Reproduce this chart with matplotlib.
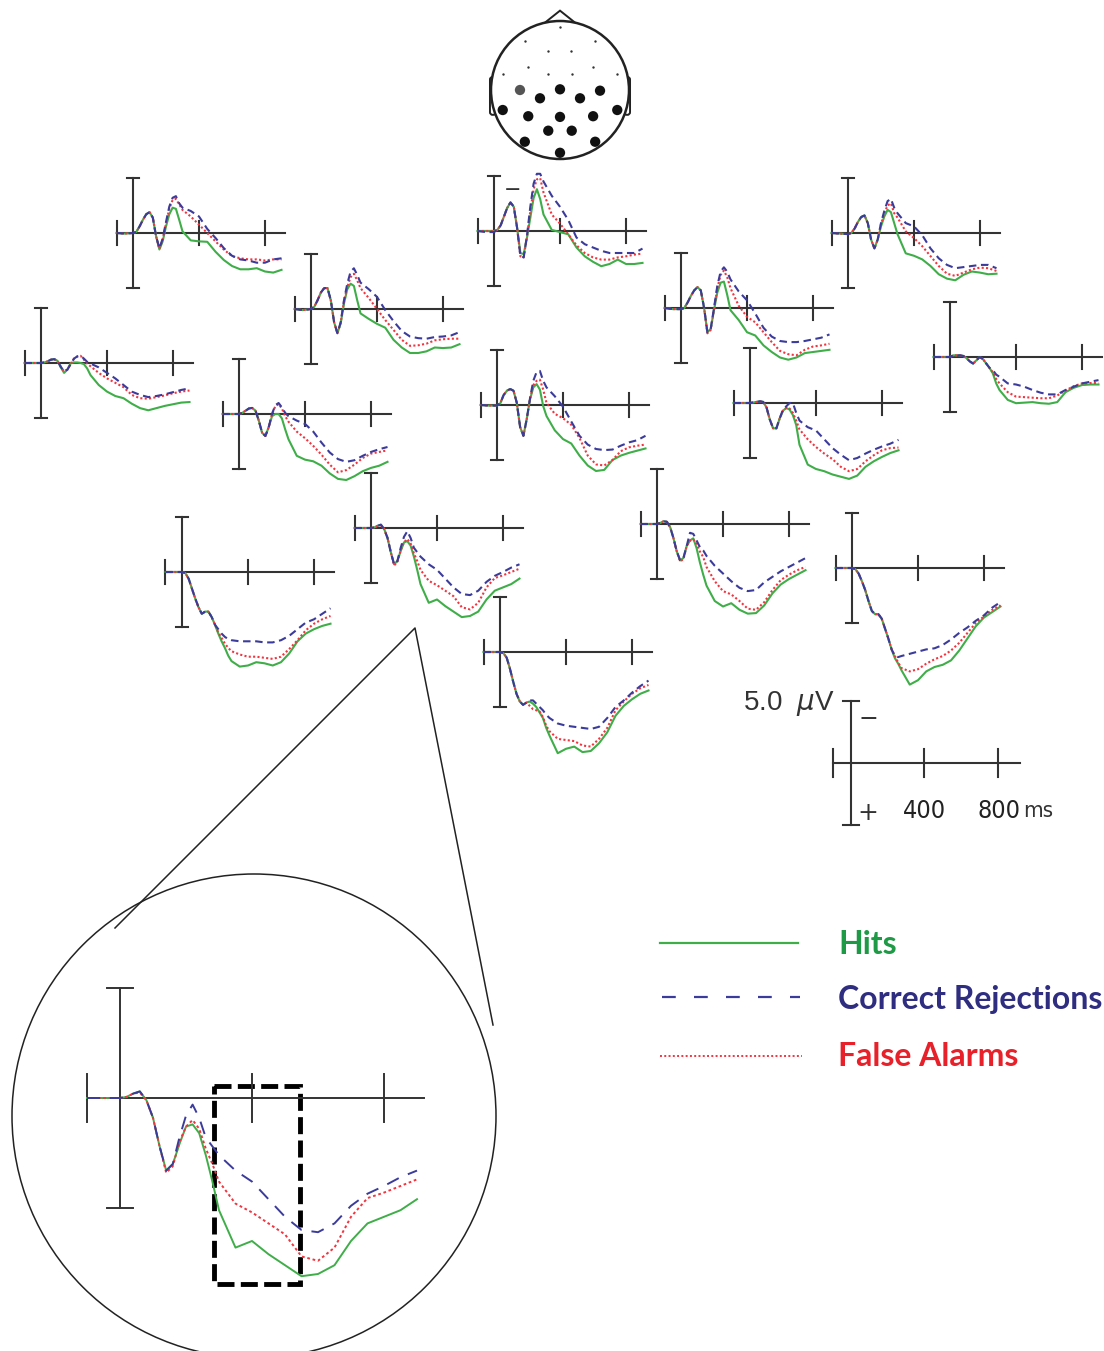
import matplotlib
matplotlib.use("Agg")
import matplotlib.pyplot as plt
from matplotlib.patches import Circle, FancyBboxPatch, Polygon, Rectangle

W, H = 1104, 1351

# time base (ms) shared by every waveform
t_ms = [-100, -50, 0, 20, 40, 60, 80, 100, 120, 140, 160, 180, 200, 220, 240,
        260, 280, 300, 350, 400, 450, 500, 550, 600, 650, 700, 750, 800, 850, 900]

# amplitudes in microvolts (negative plotted up)
p01_hit = [0, 0.05, 0, -0.1, -0.6, -1.2, -1.7, -1.9, -1.4, 0.3, 1.5, 0.75, -0.6, -1.7, -2.3, -2.2, -1.2, -0.15, 0.67, 0.76, 0.8, 1.7, 2.45, 3.0, 3.3, 3.3, 3.2, 3.5, 3.6, 3.35]
p01_cr = [0, 0.05, 0, -0.1, -0.6, -1.2, -1.7, -1.9, -1.4, 0.3, 1.4, 0.5, -1.0, -2.4, -3.2, -3.35, -2.7, -2.3, -2.0, -1.5, -0.37, 0.45, 1.37, 2.07, 2.4, 2.5, 2.7, 2.7, 2.4, 2.3]
p01_fa = [0, 0.05, 0, -0.1, -0.6, -1.2, -1.7, -1.9, -1.4, 0.3, 1.45, 0.6, -0.9, -2.2, -3.0, -3.1, -2.6, -2.1, -1.5, -0.76, 0, 0.76, 1.5, 2.1, 2.3, 2.4, 2.4, 2.5, 2.4, 2.4]

p02_hit = [0, 0, 0, -0.1, -0.5, -1.3, -2.1, -2.6, -2.2, -0.3, 2.0, 2.1, 0.6, -1.2, -3.0, -3.8, -2.9, -1.5, -0.1, 0.1, 0.3, 1.5, 2.3, 2.8, 3.2, 3.0, 2.6, 3.0, 3.0, 2.9]
p02_cr = [0, 0.1, 0.1, -0.1, -0.5, -1.3, -2.1, -2.6, -2.2, -0.3, 2.3, 2.4, 0.4, -2.2, -4.3, -5.2, -5.2, -4.5, -3.2, -2.2, -1.0, 0.6, 1.2, 1.5, 1.8, 2.0, 2.0, 2.0, 2.0, 1.6]
p02_fa = [0, 0, 0, -0.1, -0.5, -1.3, -2.1, -2.6, -2.2, -0.3, 2.3, 2.4, 0.5, -1.8, -3.8, -4.7, -4.8, -3.5, -1.5, -0.67, 0.3, 1.3, 2.0, 2.4, 2.6, 2.6, 2.4, 2.3, 2.15, 2.05]

p03_hit = [0, 0.05, 0.1, 0, -0.4, -1.0, -1.45, -1.6, -0.9, 0.6, 1.4, 0.6, -0.6, -1.5, -2.1, -1.9, -0.9, 0.1, 1.85, 2.07, 2.4, 3.0, 3.75, 4.15, 4.3, 3.8, 3.5, 3.6, 3.75, 3.7]
p03_cr = [0, 0.05, 0.1, 0, -0.4, -1.0, -1.45, -1.6, -0.9, 0.6, 1.4, 0.6, -0.9, -2.0, -2.9, -3.1, -2.3, -1.8, -0.9, -0.6, 0.2, 1.4, 2.3, 2.9, 3.2, 3.1, 3.0, 2.9, 2.9, 3.2]
p03_fa = [0, 0.05, 0.1, 0, -0.4, -1.0, -1.45, -1.6, -0.9, 0.6, 1.4, 0.6, -0.8, -1.8, -2.5, -2.7, -1.8, -1.4, -0.15, 0.46, 1.2, 2.1, 3.0, 3.7, 3.9, 3.6, 3.3, 3.15, 3.2, 3.45]

p04_hit = [0, 0.1, 0, -0.2, -0.8, -1.5, -1.9, -1.9, -0.8, 1.2, 2.2, 1.3, -0.5, -1.8, -2.3, -2.1, -0.8, 0.4, 0.9, 1.35, 1.7, 2.8, 3.5, 4.0, 4.0, 3.85, 3.5, 3.55, 3.5, 3.2]
p04_cr = [0, 0.1, 0, -0.2, -0.8, -1.5, -1.9, -1.9, -0.8, 1.2, 2.2, 1.2, -0.8, -2.3, -3.4, -3.7, -3.1, -2.4, -1.8, -1.1, 0.1, 1.1, 2.0, 2.5, 2.65, 2.7, 2.55, 2.5, 2.4, 2.1]
p04_fa = [0, 0.1, 0, -0.2, -0.8, -1.5, -1.9, -1.9, -0.8, 1.2, 2.2, 1.25, -0.7, -2.0, -2.9, -3.2, -2.6, -1.9, -1.0, 0, 1.0, 1.9, 2.8, 3.35, 3.3, 3.15, 2.85, 2.75, 2.7, 2.7]

p05_hit = [0, 0.1, 0.1, 0, -0.5, -1.1, -1.6, -1.9, -1.6, 0, 2.2, 1.9, 0.2, -1.4, -2.3, -2.4, -1.2, 0.2, 1.1, 2.2, 2.5, 3.4, 4.0, 4.5, 4.7, 4.5, 4.1, 4.0, 3.9, 3.8]
p05_cr = [0, 0.1, 0.1, 0, -0.5, -1.1, -1.6, -1.9, -1.6, 0, 2.2, 1.9, 0.0, -2.0, -3.3, -3.7, -3.3, -2.6, -1.5, -0.7, 0.5, 1.8, 2.6, 3.0, 3.1, 3.1, 3.0, 2.85, 2.7, 2.4]
p05_fa = [0, 0.1, 0.1, 0, -0.5, -1.1, -1.6, -1.9, -1.6, 0, 2.3, 2.0, 0.1, -1.8, -3.0, -3.4, -2.8, -1.8, -0.2, 0.8, 1.3, 2.2, 3.1, 3.9, 4.2, 4.3, 3.8, 3.5, 3.4, 3.25]

p06_hit = [0, 0, 0, -0.05, -0.15, -0.3, -0.35, -0.2, 0.4, 0.9, 0.6, 0.0, -0.05, -0.05, 0, 0.1, 0.5, 1.1, 2.0, 2.6, 3.0, 3.2, 3.7, 4.1, 4.3, 4.1, 3.9, 3.75, 3.6, 3.55]
p06_cr = [0, 0, 0, -0.05, -0.15, -0.3, -0.35, -0.2, 0.35, 0.75, 0.6, 0.1, -0.4, -0.6, -0.65, -0.4, -0.1, 0.05, 0.4, 0.9, 1.4, 2.0, 2.6, 2.9, 3.1, 3.0, 2.85, 2.65, 2.45, 2.3]
p06_fa = [0, 0, 0, -0.05, -0.15, -0.3, -0.35, -0.2, 0.35, 0.75, 0.6, 0.1, -0.4, -0.6, -0.65, -0.3, 0.05, 0.3, 0.9, 1.4, 1.8, 2.2, 2.9, 3.2, 3.25, 3.1, 2.95, 2.75, 2.6, 2.5]

p07_hit = [0, 0, 0, -0.1, -0.3, -0.5, -0.55, -0.3, 0.6, 1.7, 2.0, 1.2, 0.2, 0.0, 0.0, 0.4, 1.4, 2.3, 3.8, 4.15, 4.3, 4.7, 5.4, 5.9, 6.0, 5.65, 5.2, 4.9, 4.7, 4.35]
p07_cr = [0, 0, 0, -0.1, -0.3, -0.5, -0.55, -0.3, 0.6, 1.7, 2.0, 1.2, 0.0, -0.8, -1.0, -0.6, -0.1, 0.2, 0.6, 0.9, 1.6, 2.6, 3.5, 4.1, 4.35, 4.2, 3.8, 3.45, 3.2, 3.0]
p07_fa = [0, 0, 0, -0.1, -0.3, -0.5, -0.55, -0.3, 0.6, 1.7, 2.0, 1.2, 0.0, -0.7, -0.9, -0.5, 0.2, 0.7, 1.6, 2.2, 2.9, 3.7, 4.6, 5.3, 5.1, 4.6, 4.0, 3.6, 3.45, 3.3]

p08_hit = [0, 0.05, 0.05, -0.15, -0.9, -1.3, -1.45, -1.3, -0.2, 2.0, 2.8, 1.3, -0.5, -1.6, -1.9, -1.4, 0.1, 1.0, 2.3, 3.1, 3.5, 4.6, 5.5, 6.0, 5.9, 5.0, 4.6, 4.35, 4.15, 3.95]
p08_cr = [0, 0.05, 0.05, -0.15, -0.9, -1.3, -1.45, -1.3, -0.2, 2.0, 2.8, 1.3, -0.6, -2.2, -3.0, -3.1, -2.2, -1.6, -0.8, 0.15, 1.5, 2.8, 3.6, 4.0, 4.1, 4.05, 3.7, 3.4, 3.2, 2.8]
p08_fa = [0, 0.05, 0.05, -0.15, -0.9, -1.3, -1.45, -1.3, -0.2, 2.0, 2.8, 1.3, -0.6, -1.8, -2.2, -2.3, -1.4, -0.2, 0.8, 1.2, 1.8, 3.0, 4.6, 5.4, 5.5, 5.0, 4.2, 3.85, 3.7, 3.6]

p09_hit = [0, 0, 0, -0.05, -0.1, -0.15, -0.1, 0.4, 1.5, 2.3, 2.3, 1.4, 0.7, 0.45, 0.6, 1.1, 2.0, 3.8, 5.6, 6.0, 6.2, 6.5, 6.7, 6.9, 6.6, 5.8, 5.3, 4.9, 4.55, 4.3]
p09_cr = [0, 0, 0, -0.05, -0.1, -0.15, -0.1, 0.4, 1.5, 2.3, 2.3, 1.4, 0.6, 0.3, 0.0, 0.0, 0.9, 1.6, 2.2, 2.5, 3.3, 4.1, 4.7, 5.2, 5.0, 4.6, 4.25, 3.95, 3.7, 3.35]
p09_fa = [0, 0, 0, -0.05, -0.1, -0.15, -0.1, 0.4, 1.5, 2.3, 2.3, 1.4, 0.7, 0.45, 0.5, 0.9, 1.6, 2.4, 3.3, 4.0, 4.6, 5.1, 5.8, 6.2, 6.0, 5.3, 4.75, 4.3, 4.1, 4.05]

p10_hit = [0, 0, 0, -0.15, -0.15, -0.15, -0.1, 0.1, 0.4, 0.6, 0.3, 0.0, 0.2, 0.6, 1.0, 1.5, 2.4, 3.0, 3.9, 4.2, 4.15, 4.1, 4.2, 4.25, 4.1, 3.2, 2.8, 2.55, 2.5, 2.5]
p10_cr = [0, 0, 0, -0.15, -0.15, -0.15, -0.1, 0.1, 0.4, 0.6, 0.3, 0.0, 0.2, 0.6, 1.0, 1.2, 1.6, 1.8, 2.4, 2.5, 2.7, 3.0, 3.25, 3.4, 3.4, 3.0, 2.7, 2.4, 2.25, 2.1]
p10_fa = [0, 0, 0, -0.15, -0.15, -0.15, -0.1, 0.1, 0.4, 0.6, 0.3, 0.0, 0.2, 0.6, 1.0, 1.4, 2.0, 2.4, 3.2, 3.6, 3.65, 3.7, 3.75, 3.75, 3.5, 3.05, 2.65, 2.4, 2.37, 2.37]

p11_hit = [0, 0, 0, -0.05, -0.2, -0.3, 0.1, 0.9, 2.2, 3.3, 3.0, 2.1, 1.3, 1.2, 1.6, 2.6, 3.8, 5.1, 6.8, 6.5, 7.1, 7.6, 8.1, 8.0, 7.6, 6.5, 5.7, 5.4, 5.1, 4.6]
p11_cr = [0, 0, 0, -0.05, -0.2, -0.3, 0.1, 0.9, 2.2, 3.3, 3.0, 1.8, 0.8, 0.3, 0.9, 1.8, 2.2, 2.6, 3.3, 3.8, 4.6, 5.4, 6.0, 6.1, 5.7, 4.9, 4.35, 4.0, 3.6, 3.3]
p11_fa = [0, 0, 0, -0.05, -0.2, -0.25, 0.1, 0.9, 2.2, 3.4, 3.1, 2.0, 1.3, 1.0, 1.4, 2.3, 3.0, 3.8, 4.8, 5.2, 5.7, 6.2, 7.2, 7.4, 6.8, 5.4, 4.55, 4.3, 4.0, 3.7]

p12_hit = [0, 0, 0, -0.1, -0.25, -0.2, 0.3, 1.3, 2.5, 3.3, 3.1, 2.0, 1.5, 1.3, 2.2, 3.5, 4.6, 5.6, 7.0, 7.5, 7.2, 7.8, 8.15, 8.1, 7.4, 6.3, 5.5, 5.0, 4.6, 4.2]
p12_cr = [0, 0, 0, -0.1, -0.25, -0.2, 0.3, 1.3, 2.5, 3.3, 3.1, 2.0, 0.8, 0.9, 1.5, 2.1, 2.4, 2.9, 3.8, 4.5, 5.2, 5.8, 6.1, 6.0, 5.3, 4.8, 4.3, 3.9, 3.5, 3.1]
p12_fa = [0, 0, 0, -0.1, -0.25, -0.2, 0.3, 1.3, 2.5, 3.4, 3.2, 2.0, 1.5, 1.4, 1.8, 2.5, 3.0, 3.9, 5.2, 6.1, 6.4, 7.0, 7.7, 7.8, 7.1, 6.0, 5.1, 4.6, 4.2, 3.9]

p13_hit = [0, 0, 0, 0.1, 0.6, 1.5, 2.4, 3.2, 3.8, 3.6, 3.6, 4.1, 4.8, 5.6, 6.3, 6.9, 7.6, 8.1, 8.6, 8.5, 8.2, 8.3, 8.5, 8.2, 7.4, 6.3, 5.6, 5.2, 4.9, 4.7]
p13_cr = [0, 0, 0, 0.1, 0.6, 1.5, 2.4, 3.2, 3.8, 3.6, 3.6, 4.1, 4.8, 5.2, 5.6, 5.9, 6.1, 6.2, 6.3, 6.3, 6.3, 6.4, 6.4, 6.2, 5.8, 5.2, 4.6, 4.3, 3.8, 3.3]
p13_fa = [0, 0, 0, 0.1, 0.6, 1.5, 2.4, 3.2, 3.8, 3.6, 3.6, 4.1, 4.8, 5.5, 6.0, 6.5, 6.9, 7.2, 7.5, 7.7, 7.7, 7.8, 7.9, 7.7, 7.0, 6.2, 5.3, 4.7, 4.3, 4.0]

p14_hit = [0, 0, 0, 0.1, 0.5, 1.2, 2.0, 3.0, 3.9, 4.2, 4.2, 4.6, 5.5, 6.4, 7.4, 8.2, 8.7, 9.3, 10.6, 10.2, 9.4, 9.0, 8.8, 8.4, 7.5, 6.4, 5.3, 4.5, 4.0, 3.5]
p14_cr = [0, 0, 0, 0.1, 0.5, 1.2, 2.0, 3.0, 3.9, 4.2, 4.2, 4.6, 5.5, 6.4, 7.4, 8.0, 8.1, 8.0, 7.8, 7.6, 7.4, 7.3, 7.0, 6.5, 5.9, 5.4, 4.8, 4.3, 3.6, 3.1]
p14_fa = [0, 0, 0, 0.1, 0.5, 1.2, 2.0, 3.0, 3.9, 4.2, 4.2, 4.6, 5.5, 6.4, 7.4, 8.0, 8.6, 9.1, 9.4, 9.2, 8.7, 8.3, 8.0, 7.5, 6.8, 5.9, 5.0, 4.4, 3.8, 3.4]

p15_hit = [0, 0, 0, 0.1, 0.5, 1.5, 2.7, 3.8, 4.5, 4.8, 4.6, 4.5, 4.7, 5.0, 5.5, 6.0, 6.9, 7.6, 9.2, 8.8, 8.6, 9.1, 9.0, 8.3, 7.3, 5.8, 4.9, 4.3, 3.8, 3.5]
p15_cr = [0, 0, 0, 0.1, 0.5, 1.5, 2.7, 3.8, 4.5, 4.8, 4.6, 4.4, 4.4, 4.7, 5.0, 5.3, 5.7, 6.0, 6.5, 6.7, 6.8, 6.9, 7.0, 6.8, 6.0, 5.0, 4.4, 3.7, 3.1, 2.6]
p15_fa = [0, 0, 0, 0.1, 0.5, 1.5, 2.7, 3.8, 4.5, 4.8, 4.6, 4.9, 5.2, 5.3, 5.4, 5.9, 6.7, 7.2, 7.9, 8.0, 8.1, 8.5, 8.6, 7.9, 6.9, 5.3, 4.5, 3.8, 3.3, 3.0]

# electrode sites on the head (head radius = 1)
big_x = [-0.58, 0.0, 0.58, -0.29, 0.29, -0.83, 0.83, -0.46, 0.0, 0.48, -0.17, 0.17, -0.51, 0.51, 0.0]
big_y = [0.0, 0.01, -0.01, -0.12, -0.12, -0.29, -0.29, -0.38, -0.39, -0.38, -0.59, -0.59, -0.75, -0.75, -0.91]
big_c = ["#555555"] + ["#111111"] * 14
small_x = [0.0, -0.51, 0.51, -0.17, 0.16, -0.46, 0.48, -0.83, -0.17, 0.17, 0.83]
small_y = [0.91, 0.71, 0.71, 0.57, 0.57, 0.33, 0.33, 0.23, 0.23, 0.23, 0.23]

labels = ["Hits", "Correct Rejections", "False Alarms"]
win_ms = [285, 545]      # highlighted window
win_uv = [-0.55, 8.45]

HIT_C = "#3fae49"
CR_C = "#3b3b9c"
FA_C = "#f2343f"
AX_C = "#333333"

fig = plt.figure(figsize=(W / 100, H / 100), dpi=100)


# axes whose data origin sits at pixel (ox, oy), sx px per ms, sy px per uV
def px_axes(ox, oy, sx, sy, xlim=(-160, 960), ylim=(-8, 12)):
    left = ox + xlim[0] * sx
    width = (xlim[1] - xlim[0]) * sx
    top = oy + ylim[0] * sy
    height = (ylim[1] - ylim[0]) * sy
    ax = fig.add_axes([left / W, 1 - (top + height) / H, width / W, height / H])
    ax.set_xlim(*xlim)
    ax.set_ylim(ylim[1], ylim[0])
    ax.axis("off")
    return ax


def draw_frame(ax, cap=38, tick=1.1, lw=1.5):
    ax.plot([-100, 920], [0, 0], color=AX_C, lw=lw)
    ax.plot([0, 0], [-5, 5], color=AX_C, lw=lw)
    for yy in (-5, 5):
        ax.plot([-cap, cap], [yy, yy], color=AX_C, lw=lw)
    for xx in (-100, 400, 800):
        ax.plot([xx, xx], [-tick, tick], color=AX_C, lw=lw)


def draw_waves(ax, hit, cr, fa, lw=1.5, dash=(3.6, 2.2), dot=(1, 1.1)):
    ax.plot(t_ms, hit, color=HIT_C, lw=lw)
    ax.plot(t_ms, fa, color=FA_C, lw=lw, dashes=dot)
    ax.plot(t_ms, cr, color=CR_C, lw=lw, dashes=dash)


# overlay in pixel units for the magnifier and legend keys
ov = fig.add_axes([0, 0, 1, 1])
ov.set_xlim(0, W)
ov.set_ylim(H, 0)
ov.axis("off")
ov.add_patch(Circle((254, 1116), 242, fill=False, lw=1.1, color="#222222"))
ov.plot([115, 415, 493], [928, 628, 1025], color="#222222", lw=1.1)
ov.plot([660, 798], [943, 943], color=HIT_C, lw=1.6)
ov.plot([662, 800], [997, 997], color=CR_C, lw=1.6, dashes=(6.2, 8.2))
ov.plot([660, 802], [1056, 1056], color=FA_C, lw=1.4, dashes=(1, 1.2))

# head
hd = fig.add_axes([480 / W, 1 - 170 / H, 160 / W, 170 / H])
hd.set_xlim(-80 / 69, 80 / 69)
hd.set_ylim(-80 / 69, 90 / 69)
hd.axis("off")
for ex in (-1.015, 0.93):
    hd.add_patch(FancyBboxPatch((ex, -0.36), 0.085, 0.55,
                                boxstyle="round,pad=0,rounding_size=0.04",
                                fc="white", ec="#222222", lw=1.4, zorder=1))
hd.add_patch(Polygon([(-0.22, 0.975), (0, 1.15), (0.22, 0.975)], closed=False,
                     fill=False, ec="#222222", lw=1.4, zorder=1))
hd.add_patch(Circle((0, 0), 1, fc="white", ec="#222222", lw=1.8, zorder=2))
hd.scatter(big_x, big_y, s=55, c=big_c, zorder=3, lw=0)
hd.scatter(small_x, small_y, s=3, c="#333333", zorder=3, lw=0)

# the fifteen electrode panels
origins = [(133, 233), (494, 231), (848, 233), (311, 309), (681, 308),
           (41, 363), (239, 414), (497, 405), (750, 403), (950, 357),
           (371, 528), (657, 524), (182, 572), (852, 568), (500, 652)]
waves = [(p01_hit, p01_cr, p01_fa), (p02_hit, p02_cr, p02_fa),
         (p03_hit, p03_cr, p03_fa), (p04_hit, p04_cr, p04_fa),
         (p05_hit, p05_cr, p05_fa), (p06_hit, p06_cr, p06_fa),
         (p07_hit, p07_cr, p07_fa), (p08_hit, p08_cr, p08_fa),
         (p09_hit, p09_cr, p09_fa), (p10_hit, p10_cr, p10_fa),
         (p11_hit, p11_cr, p11_fa), (p12_hit, p12_cr, p12_fa),
         (p13_hit, p13_cr, p13_fa), (p14_hit, p14_cr, p14_fa),
         (p15_hit, p15_cr, p15_fa)]

for i, ((ox, oy), (hit, cr, fa)) in enumerate(zip(origins, waves)):
    ax = px_axes(ox, oy, 0.165, 11.0)
    draw_frame(ax)
    draw_waves(ax, hit, cr, fa)
    if i == 1:
        ax.text(112, -3.75, "\u2212", color=AX_C, fontsize=15, ha="center", va="center")

# magnified copy of panel 11
mg = px_axes(120, 1098, 0.33, 22.0, xlim=(-160, 960), ylim=(-6, 10))
draw_frame(mg, cap=40, tick=1.1, lw=1.4)
draw_waves(mg, p11_hit, p11_cr, p11_fa, lw=1.4, dash=(6.7, 5.1), dot=(1.4, 1.4))
mg.add_patch(Rectangle((win_ms[0], win_uv[0]), win_ms[1] - win_ms[0], win_uv[1] - win_uv[0],
                       fill=False, ec="black", lw=3.5, linestyle=(0, (3.5, 1.3))))

# scale bar
sb = px_axes(851, 763, 0.1835, 12.4, xlim=(-160, 1100), ylim=(-6, 6))
draw_frame(sb, cap=45, tick=1.15, lw=1.5)
sb.text(-87, -4.8, "5.0  $\\mu$V", fontsize=20, color=AX_C, ha="right", va="center",
        family=["Liberation Sans", "DejaVu Sans"])
sb.text(93, -3.55, "\u2212", fontsize=17, color=AX_C, ha="center", va="center")
sb.text(93, 4.0, "+", fontsize=18, color=AX_C, ha="center", va="center")
sb.text(400, 3.9, "400", fontsize=18, color="#222222", ha="center", va="center",
        family="DejaVu Sans", fontstretch="condensed")
sb.text(805, 3.9, "800", fontsize=18, color="#222222", ha="center", va="center",
        family="DejaVu Sans", fontstretch="condensed")
sb.text(1022, 3.9, "ms", fontsize=16, color="#333333", ha="center", va="center",
        family="DejaVu Sans", fontstretch="condensed")

# legend labels
for lab, yy, col in zip(labels, [945, 1000, 1057], ["#1e9a46", "#2e2d80", "#e8202a"]):
    fig.text(838 / W, 1 - yy / H, lab, color=col, fontsize=23, fontweight="bold",
             ha="left", va="center", family=["Lato", "DejaVu Sans"])

fig.savefig("out.png", dpi=100)
